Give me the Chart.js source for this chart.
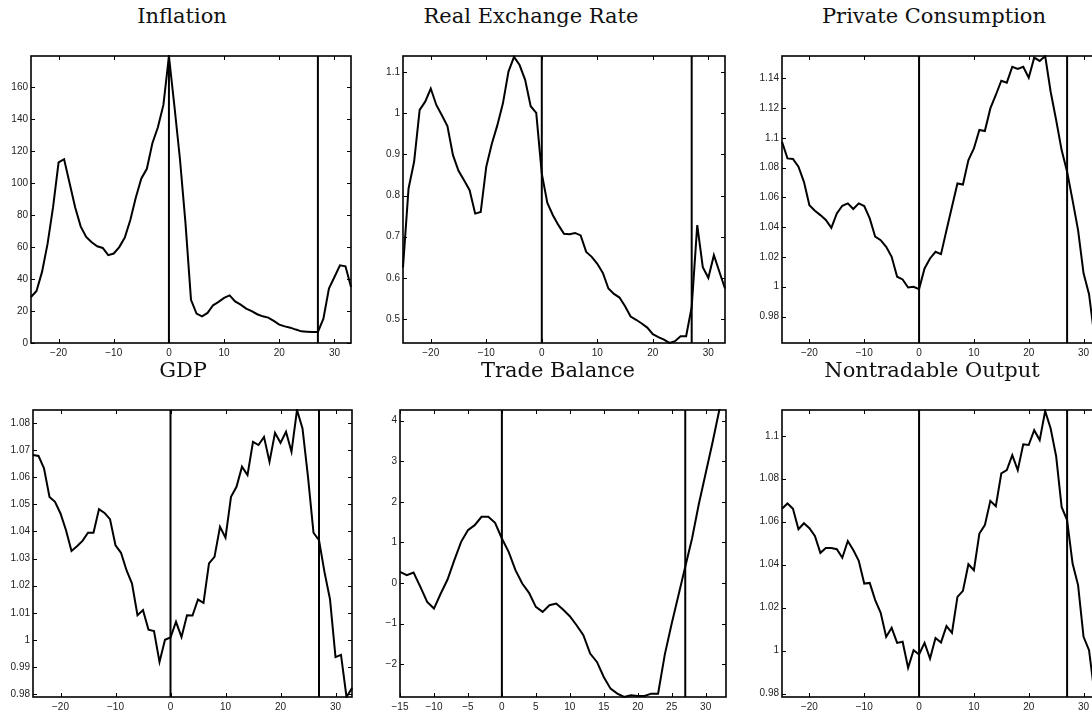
<!DOCTYPE html>
<html>
<head>
<meta charset="utf-8">
<script src="https://cdn.jsdelivr.net/npm/chart.js@4.4.0/dist/chart.umd.min.js"></script>
<style>
  html, body { margin: 0; padding: 0; background: #fff; }
  body { width: 1092px; height: 713px; position: relative; overflow: hidden; }
  canvas { position: absolute; }
  .title {
    position: absolute;
    font-family: 'DejaVu Serif', serif;
    font-size: 21px;
    line-height: 21px;
    color: #111;
    white-space: nowrap;
    transform: translateX(-50%);
  }
</style>
</head>
<body>
<script>
// quarters relative to the crisis (t = 0), second marker at t = 27
const periods = [-25, -24, -23, -22, -21, -20, -19, -18, -17, -16, -15, -14, -13, -12, -11, -10, -9, -8, -7, -6, -5, -4, -3, -2, -1,
  0, 1, 2, 3, 4, 5, 6, 7, 8, 9, 10, 11, 12, 13, 14, 15, 16, 17, 18, 19, 20, 21, 22, 23, 24, 25, 26, 27, 28, 29, 30, 31, 32, 33];
const tradePeriods = [-15, -14, -13, -12, -11, -10, -9, -8, -7, -6, -5, -4, -3, -2, -1,
  0, 1, 2, 3, 4, 5, 6, 7, 8, 9, 10, 11, 12, 13, 14, 15, 16, 17, 18, 19, 20, 21, 22, 23, 24, 25, 26, 27, 28, 29, 30, 31, 32, 33];
const eventLines = [0, 27];

const inflation = [28.8, 32.6, 44.5, 62, 85, 113, 115, 100, 85, 73, 66.4, 63, 60.5, 59.5, 55, 56, 60, 66, 77, 91, 103, 109, 125, 135, 149,
  179.5, 148, 115, 75, 27, 18.4, 16.7, 18.8, 23.6, 25.7, 28.2, 29.8, 26, 24, 21.5, 20, 18, 16.7, 15.9, 13.8, 11.5, 10.4, 9.6, 8.4, 7.3, 7.1, 6.9, 6.9, 15.2, 34, 41.3, 48.6, 48, 35];
const realExchangeRate = [0.625, 0.817, 0.882, 1.008, 1.028, 1.060, 1.020, 0.995, 0.969, 0.898, 0.86, 0.837, 0.813, 0.756, 0.760, 0.87, 0.926, 0.971, 1.024, 1.101, 1.137, 1.117, 1.081, 1.017, 1.001,
  0.853, 0.782, 0.752, 0.728, 0.707, 0.706, 0.709, 0.703, 0.663, 0.651, 0.634, 0.612, 0.574, 0.561, 0.552, 0.531, 0.506, 0.498, 0.489, 0.479, 0.463, 0.456, 0.45, 0.442, 0.446, 0.458, 0.458, 0.529, 0.728, 0.626, 0.6, 0.655, 0.614, 0.574];
const privateConsumption = [1.0974, 1.0862, 1.0858, 1.0806, 1.0705, 1.0548, 1.051, 1.0481, 1.0448, 1.0396, 1.0492, 1.0544, 1.056, 1.0522, 1.056, 1.0542, 1.0459, 1.0336, 1.0313, 1.0268, 1.0201, 1.0067, 1.0049, 0.9995, 1.0,
  0.9984, 1.0123, 1.019, 1.0235, 1.0219, 1.038, 1.0537, 1.0694, 1.0687, 1.0851, 1.0929, 1.1053, 1.1046, 1.1198, 1.1288, 1.1384, 1.1371, 1.1478, 1.1463, 1.1478, 1.1404, 1.1539, 1.1517, 1.155, 1.131, 1.112, 1.0918, 1.0773, 1.058, 1.038, 1.009, 0.995, 0.966, 0.9622];
const gdp = [1.0681, 1.0678, 1.0632, 1.0527, 1.0509, 1.0466, 1.0404, 1.0328, 1.0345, 1.0365, 1.0395, 1.0395, 1.0482, 1.0468, 1.0445, 1.0349, 1.0321, 1.0257, 1.0208, 1.0091, 1.011, 1.0038, 1.0033, 0.9919, 1.0001,
  1.0009, 1.0067, 1.0011, 1.0091, 1.009, 1.0149, 1.0137, 1.0282, 1.0306, 1.0417, 1.0377, 1.0527, 1.0564, 1.0638, 1.0607, 1.073, 1.0718, 1.0748, 1.0656, 1.0763, 1.0726, 1.0767, 1.0693, 1.0847, 1.0779, 1.0601, 1.0395, 1.0368, 1.025, 1.015, 0.9937, 0.9945, 0.979, 0.9823];
const tradeBalance = [0.277, 0.195, 0.26, -0.093, -0.463, -0.627, -0.257, 0.088, 0.564, 1.016, 1.304, 1.427, 1.633, 1.633, 1.485,
  1.099, 0.77, 0.318, -0.011, -0.241, -0.586, -0.71, -0.545, -0.504, -0.652, -0.816, -1.038, -1.285, -1.737, -1.942, -2.312, -2.6, -2.723, -2.805, -2.764, -2.78, -2.78, -2.723, -2.723, -1.75, -1.0, -0.3, 0.4, 1.1, 1.95, 2.7, 3.45, 4.25, 5.0];
const nontradableOutput = [1.066, 1.0685, 1.066, 1.0565, 1.0593, 1.057, 1.0534, 1.0455, 1.0478, 1.0478, 1.0472, 1.0432, 1.051, 1.0468, 1.0418, 1.0312, 1.0315, 1.0235, 1.0176, 1.0064, 1.0106, 1.0036, 1.0041, 0.992, 1.0002,
  0.9982, 1.0036, 0.9963, 1.0059, 1.0038, 1.0114, 1.0083, 1.025, 1.0278, 1.0402, 1.0374, 1.0545, 1.0584, 1.0697, 1.0672, 1.0825, 1.084, 1.091, 1.084, 1.096, 1.0957, 1.1026, 1.098, 1.1115, 1.1034, 1.0905, 1.0669, 1.0607, 1.0405, 1.0305, 1.0064, 1.0002, 0.98, 0.9784];

// tick labels
const xTicksWide = [-20, -10, 0, 10, 20, 30];
const xTicksTrade = [-15, -10, -5, 0, 5, 10, 15, 20, 25, 30];
const yTicksInflation = [0, 20, 40, 60, 80, 100, 120, 140, 160];
const yTicksRer = [0.5, 0.6, 0.7, 0.8, 0.9, 1, 1.1];
const yTicksConsumption = [0.98, 1, 1.02, 1.04, 1.06, 1.08, 1.1, 1.12, 1.14];
const yTicksGdp = [0.98, 0.99, 1, 1.01, 1.02, 1.03, 1.04, 1.05, 1.06, 1.07, 1.08];
const yTicksTrade = [-2, -1, 0, 1, 2, 3, 4];
const yTicksNontradable = [0.98, 1, 1.02, 1.04, 1.06, 1.08, 1.1];

// [xmin, xmax, ymin, ymax] per panel
const limitsInflation = [-25, 33, 0, 179.6];
const limitsRer = [-25, 33, 0.4416, 1.139];
const limitsConsumption = [-25, 33, 0.9622, 1.155];
const limitsGdp = [-25, 33, 0.979, 1.0847];
const limitsTrade = [-15, 33, -2.806, 4.264];
const limitsNontradable = [-25, 33, 0.9784, 1.112];

const panels = [
  { title: 'Inflation', titleX: 182, titleY: 6, box: [31, 56, 351, 343], t: periods, v: inflation, xt: xTicksWide, yt: yTicksInflation, lim: limitsInflation },
  { title: 'Real Exchange Rate', titleX: 531, titleY: 6, box: [403, 56, 725, 343], t: periods, v: realExchangeRate, xt: xTicksWide, yt: yTicksRer, lim: limitsRer },
  { title: 'Private Consumption', titleX: 934, titleY: 6, box: [782, 56, 1100, 343], t: periods, v: privateConsumption, xt: xTicksWide, yt: yTicksConsumption, lim: limitsConsumption },
  { title: 'GDP', titleX: 183, titleY: 360, box: [33, 410, 352, 697], t: periods, v: gdp, xt: xTicksWide, yt: yTicksGdp, lim: limitsGdp },
  { title: 'Trade Balance', titleX: 558, titleY: 360, box: [400, 410, 726, 697], t: tradePeriods, v: tradeBalance, xt: xTicksTrade, yt: yTicksTrade, lim: limitsTrade },
  { title: 'Nontradable Output', titleX: 932, titleY: 360, box: [782, 410, 1100, 697], t: periods, v: nontradableOutput, xt: xTicksWide, yt: yTicksNontradable, lim: limitsNontradable },
];

const PAD_LEFT = 40, PAD_TOP = 8, PAD_RIGHT = 8, PAD_BOTTOM = 22;
const tickFont = { family: "'Liberation Sans', Arial, sans-serif", size: 10 };

const fmt = (v) => String(Number(v.toFixed(4))).replace('-', '\u2212');

// box frame with inward ticks on all four sides, like the old matlab axes
const framePlugin = {
  id: 'frame',
  afterDatasetsDraw(chart) {
    const { ctx, chartArea: a, scales: { x, y } } = chart;
    ctx.save();
    ctx.strokeStyle = '#000';
    ctx.lineWidth = 1;
    ctx.beginPath();
    x.ticks.forEach((t) => {
      const px = Math.round(x.getPixelForValue(t.value)) + 0.5;
      ctx.moveTo(px, a.bottom); ctx.lineTo(px, a.bottom - 4);
      ctx.moveTo(px, a.top); ctx.lineTo(px, a.top + 4);
    });
    y.ticks.forEach((t) => {
      const py = Math.round(y.getPixelForValue(t.value)) + 0.5;
      ctx.moveTo(a.left, py); ctx.lineTo(a.left + 4, py);
      ctx.moveTo(a.right, py); ctx.lineTo(a.right - 4, py);
    });
    ctx.stroke();
    ctx.lineWidth = 1.6;
    ctx.strokeRect(a.left, a.top, a.right - a.left, a.bottom - a.top);
    ctx.restore();
  }
};

const makePanel = (p) => {
  const [l, t, r, b] = p.box;
  const [xmin, xmax, ymin, ymax] = p.lim;

  const title = document.createElement('div');
  title.className = 'title';
  title.textContent = p.title;
  title.style.left = p.titleX + 'px';
  title.style.top = p.titleY + 'px';
  document.body.appendChild(title);

  const canvas = document.createElement('canvas');
  const w = r - l + PAD_LEFT + PAD_RIGHT;
  const h = b - t + PAD_TOP + PAD_BOTTOM;
  canvas.width = w;
  canvas.height = h;
  canvas.style.width = w + 'px';
  canvas.style.height = h + 'px';
  canvas.style.left = (l - PAD_LEFT) + 'px';
  canvas.style.top = (t - PAD_TOP) + 'px';
  document.body.appendChild(canvas);

  const series = p.t.map((q, i) => ({ x: q, y: p.v[i] }));
  const markers = eventLines.map((q) => ({
    data: [{ x: q, y: ymin }, { x: q, y: ymax }],
    borderColor: '#000',
    borderWidth: 2,
    pointRadius: 0,
    clip: 0,
  }));

  new Chart(canvas, {
    type: 'line',
    data: {
      datasets: [
        ...markers,
        {
          data: series,
          borderColor: '#000',
          borderWidth: 2,
          pointRadius: 0,
          tension: 0,
          clip: 1,
        },
      ],
    },
    options: {
      responsive: false,
      animation: false,
      devicePixelRatio: 1,
      events: [],
      layout: { padding: { left: 0, top: PAD_TOP, right: PAD_RIGHT, bottom: 0 } },
      plugins: { legend: { display: false }, tooltip: { enabled: false }, title: { display: false } },
      scales: {
        x: {
          type: 'linear',
          min: xmin,
          max: xmax,
          grid: { display: false, drawTicks: false },
          border: { display: false },
          ticks: { font: tickFont, color: '#222', padding: 4, autoSkip: false, maxRotation: 0, callback: fmt },
          afterBuildTicks: (s) => { s.ticks = p.xt.map((v) => ({ value: v })); },
          afterFit: (s) => { s.height = PAD_BOTTOM; s.paddingLeft = 0; s.paddingRight = 0; },
        },
        y: {
          type: 'linear',
          min: ymin,
          max: ymax,
          grid: { display: false, drawTicks: false },
          border: { display: false },
          ticks: { font: tickFont, color: '#222', padding: 3, autoSkip: false, callback: fmt },
          afterBuildTicks: (s) => { s.ticks = p.yt.map((v) => ({ value: v })); },
          afterFit: (s) => { s.width = PAD_LEFT; s.paddingTop = 0; s.paddingBottom = 0; },
        },
      },
    },
    plugins: [framePlugin],
  });
};

panels.forEach(makePanel);
</script>
</body>
</html>
